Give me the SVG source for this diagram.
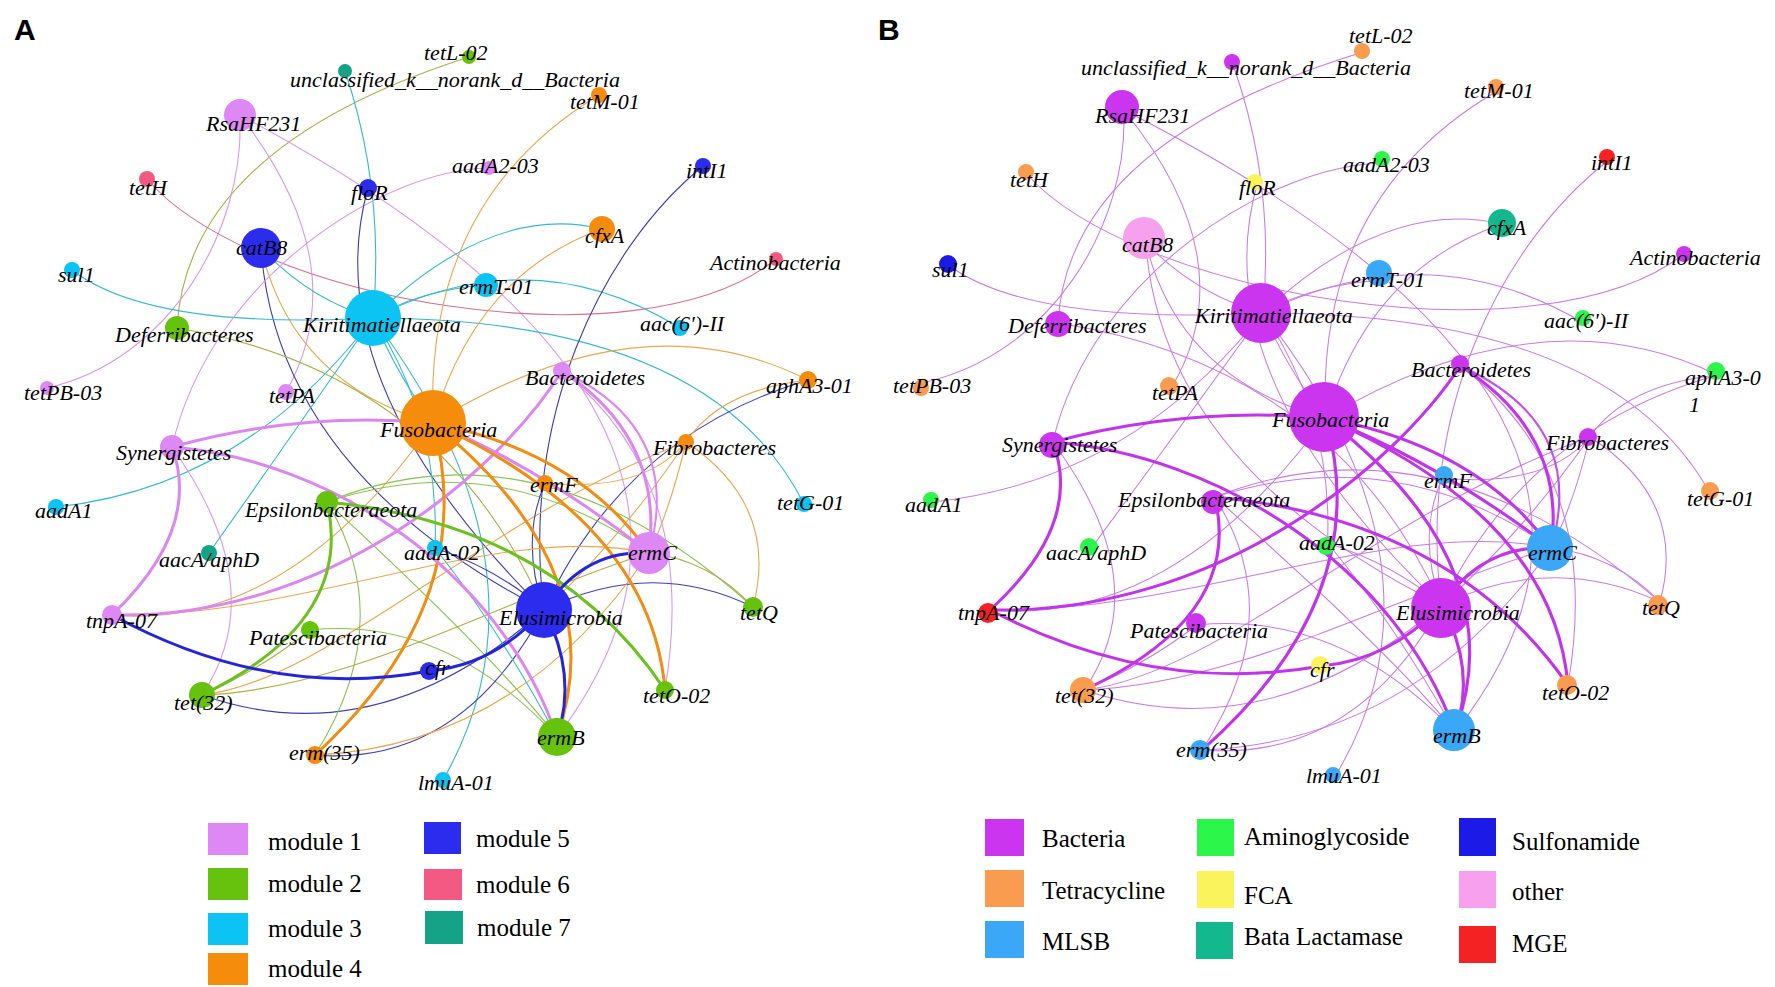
<svg xmlns="http://www.w3.org/2000/svg" width="1775" height="987" viewBox="0 0 1775 987">
<style>
.bg{fill:#fff}
.e{fill:none;stroke-width:1.1}
.t{fill:none;stroke-width:3}
.m{fill:none;stroke-width:2}
.cv{stroke:#d99ae8}.co{stroke:#e6a850}.cc{stroke:#36b8d0}.cn{stroke:#3c3cb8}.cg{stroke:#8cc050}.cl{stroke:#a8b048}.cp{stroke:#d87090}
.tv{stroke:#dc86f0}.to{stroke:#f28c12}.tg{stroke:#6cc020}.tn{stroke:#2424d8}
#edgesB .e{stroke:#c87ae4;stroke-width:1}
#edgesB .t{stroke:#c234ec;stroke-width:3}
#edgesB .m{stroke:#c450ea;stroke-width:2}
.lb{font-family:"Liberation Serif","Times New Roman",serif;font-style:italic;font-size:22px;fill:#000}
.lg{font-family:"Liberation Serif","Times New Roman",serif;font-size:25px;fill:#000}
.pl{font-family:"Liberation Sans",Arial,sans-serif;font-weight:bold;font-size:30px;fill:#000}
.m1{fill:#dd88f5}.m2{fill:#66c20c}.m3{fill:#0cc4f4}.m4{fill:#f58c0c}.m5{fill:#2c2cee}.m6{fill:#f25a84}.m7{fill:#14a386}
.bac{fill:#cc35f0}.tet{fill:#f99c4f}.mls{fill:#3aa8f6}.ami{fill:#2cf64a}.fca{fill:#fbf35c}.bla{fill:#14b88e}.sul{fill:#1b1ae6}.oth{fill:#f6a0ee}.mge{fill:#f42222}
</style>
<rect class="bg" x="0" y="0" width="1775" height="987"/>
<text class="pl" x="14" y="40">A</text>
<text class="pl" x="878" y="40">B</text>

<g id="edgesA">
<path class="e cl" d="M469,57 Q187,147 177,328"/>
<path class="e cc" d="M345,71 Q385,190 373,318"/>
<path class="e cv" d="M240,115 C245,230 170,360 47,388"/>
<path class="e cv" d="M240,115 Q357,266 286,392"/>
<path class="e cv" d="M240,115 Q801,414 557,737"/>
<path class="e cp" d="M147,179 C250,300 640,370 776,259"/>
<path class="e cn" d="M261,248 Q277,471 544,610"/>
<path class="e co" d="M261,248 Q293,384 433,423"/>
<path class="e cc" d="M261,248 Q310,300 373,318"/>
<path class="e cc" d="M72,270 Q150,330 373,318"/>
<path class="e cv" d="M489,168 C380,170 210,280 172,447"/>
<path class="e cn" d="M368,188 Q314,381 544,610"/>
<path class="e cl" d="M177,328 Q440,371 544,610"/>
<path class="e cc" d="M373,318 Q420,290 486,285"/>
<path class="e cc" d="M373,318 Q492,202 602,229"/>
<path class="e cc" d="M373,318 Q533,237 680,328"/>
<path class="e cc" d="M373,318 Q711,319 804,504"/>
<path class="e cc" d="M373,318 Q245,487 56,507"/>
<path class="e cc" d="M373,318 Q279,454 209,553"/>
<path class="e cc" d="M373,318 Q562,571 443,780"/>
<path class="e cc" d="M373,318 Q400,380 433,423"/>
<path class="e cc" d="M373,318 Q440,420 435,548"/>
<path class="e co" d="M599,95 Q424,201 433,423"/>
<path class="e co" d="M602,229 Q476,274 433,423"/>
<path class="e cn" d="M703,166 C600,250 520,420 544,610"/>
<path class="e cn" d="M544,610 Q624,435 808,380"/>
<path class="e co" d="M433,423 Q640,295 808,380"/>
<path class="e co" d="M808,380 Q720,390 686,442"/>
<path class="e co" d="M686,442 Q780,505 753,607"/>
<path class="e co" d="M686,442 Q670,510 649,553"/>
<path class="e co" d="M686,442 Q644,493 545,483"/>
<path class="e co" d="M686,442 Q620,540 544,610"/>
<path class="e cv" d="M562,371 Q700,480 665,690"/>
<path class="e co" d="M112,615 Q287,631 433,423"/>
<path class="e co" d="M202,695 C330,680 480,520 686,442"/>
<path class="e cg" d="M327,502 Q540,415 753,607"/>
<path class="e cg" d="M327,502 Q500,445 649,553"/>
<path class="e cg" d="M310,630 Q446,616 557,737"/>
<path class="e cv" d="M172,447 Q273,589 202,695"/>
<path class="e cn" d="M544,610 Q651,557 753,607"/>
<path class="e cn" d="M202,695 Q377,757 544,610"/>
<path class="e cn" d="M315,755 Q460,767 544,610"/>
<path class="e co" d="M315,755 Q518,746 649,553"/>
<path class="e cn" d="M435,548 Q500,570 544,610"/>
<path class="e cn" d="M545,483 Q520,540 544,610"/>
<path class="e cg" d="M327,502 Q498,660 557,737"/>
<path class="e cc" d="M435,548 Q500,630 557,737"/>
<path class="e cl" d="M649,553 Q710,560 753,607"/>
<path class="e cg" d="M327,502 Q399,621 315,755"/>
<path class="e cl" d="M310,630 Q260,670 202,695"/>
<path class="e co" d="M112,615 C300,620 500,520 649,553"/>
<path class="e cl" d="M202,695 C350,690 500,600 649,553"/>
<path class="m tv" d="M562,371 Q684,428 649,553"/>
<path class="t tv" d="M562,371 Q664,438 649,553"/>
<path class="t tv" d="M562,371 C500,470 330,620 112,615"/>
<path class="t tv" d="M172,447 Q302,411 433,423"/>
<path class="t to" d="M433,423 Q579,452 649,553"/>
<path class="t tv" d="M433,423 Q545,470 649,553"/>
<path class="t to" d="M433,423 Q651,523 665,690"/>
<path class="t to" d="M433,423 Q615,570 557,737"/>
<path class="t to" d="M433,423 Q482,601 315,755"/>
<path class="t tv" d="M172,447 C330,460 500,570 557,737"/>
<path class="t tg" d="M327,502 Q355,621 202,695"/>
<path class="t tg" d="M327,502 Q554,524 665,690"/>
<path class="t tv" d="M112,615 Q202,529 172,447"/>
<path class="t tn" d="M112,615 Q270,701 429,671"/>
<path class="t tn" d="M429,671 Q495,665 544,610"/>
<path class="t tn" d="M544,610 Q584,549 649,553"/>
<path class="t tn" d="M544,610 Q578,675 557,737"/>
</g>

<g id="edgesB" transform="matrix(1.045 0 0 1 873 -5)">
<path class="e" d="M469,57 Q187,147 177,328"/>
<path class="e" d="M345,71 Q385,190 373,318"/>
<path class="e" d="M240,115 C245,230 170,360 47,388"/>
<path class="e" d="M240,115 Q357,266 286,392"/>
<path class="e" d="M240,115 Q801,414 557,737"/>
<path class="e" d="M147,179 C250,300 640,370 776,259"/>
<path class="e" d="M261,248 Q277,471 544,610"/>
<path class="e" d="M261,248 Q293,384 433,423"/>
<path class="e" d="M261,248 Q310,300 373,318"/>
<path class="e" d="M72,270 Q150,330 373,318"/>
<path class="e" d="M489,168 C380,170 210,280 172,447"/>
<path class="e" d="M368,188 Q314,381 544,610"/>
<path class="e" d="M177,328 Q440,371 544,610"/>
<path class="e" d="M373,318 Q420,290 486,285"/>
<path class="e" d="M373,318 Q492,202 602,229"/>
<path class="e" d="M373,318 Q533,237 680,328"/>
<path class="e" d="M373,318 Q711,319 804,504"/>
<path class="e" d="M373,318 Q245,487 56,507"/>
<path class="e" d="M373,318 Q279,454 209,553"/>
<path class="e" d="M373,318 Q562,571 443,780"/>
<path class="e" d="M373,318 Q400,380 433,423"/>
<path class="e" d="M373,318 Q440,420 435,548"/>
<path class="e" d="M599,95 Q424,201 433,423"/>
<path class="e" d="M602,229 Q476,274 433,423"/>
<path class="e" d="M703,166 C600,250 520,420 544,610"/>
<path class="e" d="M544,610 Q624,435 808,380"/>
<path class="e" d="M433,423 Q640,295 808,380"/>
<path class="e" d="M808,380 Q720,390 686,442"/>
<path class="e" d="M686,442 Q780,505 753,607"/>
<path class="e" d="M686,442 Q670,510 649,553"/>
<path class="e" d="M686,442 Q644,493 545,483"/>
<path class="e" d="M686,442 Q620,540 544,610"/>
<path class="e" d="M562,371 Q700,480 665,690"/>
<path class="e" d="M112,615 Q287,631 433,423"/>
<path class="e" d="M202,695 C330,680 480,520 686,442"/>
<path class="e" d="M327,502 Q540,415 753,607"/>
<path class="e" d="M327,502 Q500,445 649,553"/>
<path class="e" d="M310,630 Q446,616 557,737"/>
<path class="e" d="M172,447 Q273,589 202,695"/>
<path class="e" d="M544,610 Q651,557 753,607"/>
<path class="e" d="M202,695 Q377,757 544,610"/>
<path class="e" d="M315,755 Q460,767 544,610"/>
<path class="e" d="M315,755 Q518,746 649,553"/>
<path class="e" d="M435,548 Q500,570 544,610"/>
<path class="e" d="M545,483 Q520,540 544,610"/>
<path class="e" d="M327,502 Q498,660 557,737"/>
<path class="e" d="M435,548 Q500,630 557,737"/>
<path class="e" d="M649,553 Q710,560 753,607"/>
<path class="e" d="M327,502 Q399,621 315,755"/>
<path class="e" d="M310,630 Q260,670 202,695"/>
<path class="e" d="M112,615 C300,620 500,520 649,553"/>
<path class="e" d="M202,695 C350,690 500,600 649,553"/>
<path class="m" d="M562,371 Q684,428 649,553"/>
<path class="t" d="M562,371 Q664,438 649,553"/>
<path class="t" d="M562,371 C500,470 330,620 112,615"/>
<path class="t" d="M172,447 Q302,411 433,423"/>
<path class="t" d="M433,423 Q579,452 649,553"/>
<path class="t" d="M433,423 Q545,470 649,553"/>
<path class="t" d="M433,423 Q651,523 665,690"/>
<path class="t" d="M433,423 Q615,570 557,737"/>
<path class="t" d="M433,423 Q482,601 315,755"/>
<path class="t" d="M172,447 C330,460 500,570 557,737"/>
<path class="t" d="M327,502 Q355,621 202,695"/>
<path class="t" d="M327,502 Q554,524 665,690"/>
<path class="t" d="M112,615 Q202,529 172,447"/>
<path class="t" d="M112,615 Q270,701 429,671"/>
<path class="t" d="M429,671 Q495,665 544,610"/>
<path class="t" d="M544,610 Q584,549 649,553"/>
<path class="t" d="M544,610 Q578,675 557,737"/>
</g>

<g id="nodesA">
<g id="a-tetL02"><circle class="m2" cx="469" cy="57" r="7"/><text class="lb" x="424" y="60">tetL-02</text></g>
<g id="a-unclassified"><circle class="m7" cx="345" cy="71" r="7"/><text class="lb" x="290" y="87">unclassified_k__norank_d__Bacteria</text></g>
<g id="a-tetM01"><circle class="m4" cx="599" cy="95" r="8"/><text class="lb" x="570" y="109">tetM-01</text></g>
<g id="a-RsaHF231"><circle class="m1" cx="240" cy="115" r="16"/><text class="lb" x="206" y="131">RsaHF231</text></g>
<g id="a-aadA203"><circle class="m1" cx="489" cy="168" r="7"/><text class="lb" x="452" y="173">aadA2-03</text></g>
<g id="a-intI1"><circle class="m5" cx="703" cy="166" r="8"/><text class="lb" x="686" y="178">intI1</text></g>
<g id="a-tetH"><circle class="m6" cx="147" cy="179" r="8"/><text class="lb" x="129" y="195">tetH</text></g>
<g id="a-floR"><circle class="m5" cx="368" cy="188" r="9"/><text class="lb" x="351" y="200">floR</text></g>
<g id="a-cfxA"><circle class="m4" cx="602" cy="229" r="13"/><text class="lb" x="585" y="243">cfxA</text></g>
<g id="a-catB8"><circle class="m5" cx="261" cy="248" r="20"/><text class="lb" x="236" y="255">catB8</text></g>
<g id="a-sul1"><circle class="m3" cx="72" cy="270" r="8"/><text class="lb" x="58" y="282">sul1</text></g>
<g id="a-Actinobacteria"><circle class="m6" cx="776" cy="259" r="7"/><text class="lb" x="710" y="270">Actinobacteria</text></g>
<g id="a-ermT01"><circle class="m3" cx="486" cy="285" r="12"/><text class="lb" x="459" y="294">ermT-01</text></g>
<g id="a-Kiritimatiellaeota"><circle class="m3" cx="373" cy="318" r="28"/><text class="lb" x="303" y="332">Kiritimatiellaeota</text></g>
<g id="a-aac6II"><circle class="m3" cx="680" cy="328" r="8"/><text class="lb" x="640" y="331">aac(6')-II</text></g>
<g id="a-Deferribacteres"><circle class="m2" cx="177" cy="328" r="12"/><text class="lb" x="115" y="342">Deferribacteres</text></g>
<g id="a-tetPB03"><circle class="m1" cx="47" cy="388" r="7"/><text class="lb" x="24" y="400">tetPB-03</text></g>
<g id="a-tetPA"><circle class="m1" cx="286" cy="392" r="8"/><text class="lb" x="269" y="403">tetPA</text></g>
<g id="a-Bacteroidetes"><circle class="m1" cx="562" cy="371" r="9"/><text class="lb" x="525" y="385">Bacteroidetes</text></g>
<g id="a-aphA301"><circle class="m4" cx="808" cy="380" r="9"/><text class="lb" x="766" y="393">aphA3-01</text></g>
<g id="a-Fusobacteria"><circle class="m4" cx="433" cy="423" r="33"/><text class="lb" x="380" y="437">Fusobacteria</text></g>
<g id="a-Synergistetes"><circle class="m1" cx="172" cy="447" r="12"/><text class="lb" x="116" y="460">Synergistetes</text></g>
<g id="a-Fibrobacteres"><circle class="m4" cx="686" cy="442" r="8"/><text class="lb" x="653" y="455">Fibrobacteres</text></g>
<g id="a-ermF"><circle class="m4" cx="545" cy="483" r="8"/><text class="lb" x="530" y="492">ermF</text></g>
<g id="a-tetG01"><circle class="m3" cx="804" cy="504" r="8"/><text class="lb" x="777" y="510">tetG-01</text></g>
<g id="a-aadA1"><circle class="m3" cx="56" cy="507" r="8"/><text class="lb" x="35" y="518">aadA1</text></g>
<g id="a-Epsilonbacteraeota"><circle class="m2" cx="327" cy="502" r="11"/><text class="lb" x="245" y="517">Epsilonbacteraeota</text></g>
<g id="a-aadA02"><circle class="m3" cx="435" cy="548" r="8"/><text class="lb" x="404" y="560">aadA-02</text></g>
<g id="a-ermC"><circle class="m1" cx="649" cy="553" r="21"/><text class="lb" x="628" y="560">ermC</text></g>
<g id="a-aacAaphD"><circle class="m7" cx="209" cy="553" r="8"/><text class="lb" x="159" y="567">aacA/aphD</text></g>
<g id="a-tnpA07"><circle class="m1" cx="112" cy="615" r="10"/><text class="lb" x="86" y="628">tnpA-07</text></g>
<g id="a-Elusimicrobia"><circle class="m5" cx="544" cy="610" r="28"/><text class="lb" x="499" y="625">Elusimicrobia</text></g>
<g id="a-tetQ"><circle class="m2" cx="753" cy="607" r="10"/><text class="lb" x="740" y="620">tetQ</text></g>
<g id="a-Patescibacteria"><circle class="m2" cx="310" cy="630" r="9"/><text class="lb" x="249" y="645">Patescibacteria</text></g>
<g id="a-cfr"><circle class="m5" cx="429" cy="671" r="9"/><text class="lb" x="425" y="675">cfr</text></g>
<g id="a-tet32"><circle class="m2" cx="202" cy="695" r="13"/><text class="lb" x="174" y="710">tet(32)</text></g>
<g id="a-tetO02"><circle class="m2" cx="665" cy="690" r="9"/><text class="lb" x="643" y="703">tetO-02</text></g>
<g id="a-ermB"><circle class="m2" cx="557" cy="737" r="19"/><text class="lb" x="537" y="745">ermB</text></g>
<g id="a-erm35"><circle class="m4" cx="315" cy="755" r="9"/><text class="lb" x="289" y="760">erm(35)</text></g>
<g id="a-lmuA01"><circle class="m3" cx="443" cy="780" r="8"/><text class="lb" x="418" y="790">lmuA-01</text></g>
</g>

<g id="nodesB">
<g id="b-tetL02"><circle class="tet" cx="1362" cy="51" r="8"/><text class="lb" x="1349" y="43">tetL-02</text></g>
<g id="b-unclassified"><circle class="bac" cx="1232" cy="62" r="8"/><text class="lb" x="1081" y="75">unclassified_k__norank_d__Bacteria</text></g>
<g id="b-tetM01"><circle class="tet" cx="1496" cy="87" r="8"/><text class="lb" x="1464" y="98">tetM-01</text></g>
<g id="b-RsaHF231"><circle class="bac" cx="1122" cy="107" r="17"/><text class="lb" x="1095" y="123">RsaHF231</text></g>
<g id="b-aadA203"><circle class="ami" cx="1382" cy="159" r="8"/><text class="lb" x="1343" y="172">aadA2-03</text></g>
<g id="b-intI1"><circle class="mge" cx="1607" cy="157" r="8"/><text class="lb" x="1591" y="170">intI1</text></g>
<g id="b-tetH"><circle class="tet" cx="1026" cy="172" r="8"/><text class="lb" x="1010" y="187">tetH</text></g>
<g id="b-floR"><circle class="fca" cx="1255" cy="182" r="8"/><text class="lb" x="1239" y="195">floR</text></g>
<g id="b-cfxA"><circle class="bla" cx="1502" cy="223" r="14"/><text class="lb" x="1487" y="235">cfxA</text></g>
<g id="b-catB8"><circle class="oth" cx="1144" cy="238" r="21"/><text class="lb" x="1122" y="252">catB8</text></g>
<g id="b-sul1"><circle class="sul" cx="948" cy="264" r="9"/><text class="lb" x="932" y="277">sul1</text></g>
<g id="b-Actinobacteria"><circle class="bac" cx="1684" cy="254" r="8"/><text class="lb" x="1630" y="265">Actinobacteria</text></g>
<g id="b-ermT01"><circle class="mls" cx="1379" cy="273" r="13"/><text class="lb" x="1351" y="287">ermT-01</text></g>
<g id="b-Kiritimatiellaeota"><circle class="bac" cx="1261" cy="313" r="30"/><text class="lb" x="1195" y="323">Kiritimatiellaeota</text></g>
<g id="b-aac6II"><circle class="ami" cx="1583" cy="318" r="8"/><text class="lb" x="1544" y="328">aac(6')-II</text></g>
<g id="b-Deferribacteres"><circle class="bac" cx="1058" cy="324" r="13"/><text class="lb" x="1008" y="333">Deferribacteres</text></g>
<g id="b-tetPB03"><circle class="tet" cx="921" cy="388" r="8"/><text class="lb" x="893" y="393">tetPB-03</text></g>
<g id="b-tetPA"><circle class="tet" cx="1169" cy="386" r="9"/><text class="lb" x="1152" y="400">tetPA</text></g>
<g id="b-Bacteroidetes"><circle class="bac" cx="1460" cy="364" r="9"/><text class="lb" x="1411" y="377">Bacteroidetes</text></g>
<g id="b-aphA301"><circle class="ami" cx="1716" cy="371" r="9"/><text class="lb" x="1685" y="385">aphA3-0</text><text class="lb" x="1689" y="412">1</text></g>
<g id="b-Fusobacteria"><circle class="bac" cx="1324" cy="417" r="35"/><text class="lb" x="1272" y="427">Fusobacteria</text></g>
<g id="b-Synergistetes"><circle class="bac" cx="1052" cy="445" r="13"/><text class="lb" x="1002" y="452">Synergistetes</text></g>
<g id="b-Fibrobacteres"><circle class="bac" cx="1588" cy="437" r="9"/><text class="lb" x="1546" y="450">Fibrobacteres</text></g>
<g id="b-ermF"><circle class="mls" cx="1444" cy="475" r="9"/><text class="lb" x="1424" y="488">ermF</text></g>
<g id="b-tetG01"><circle class="tet" cx="1710" cy="491" r="9"/><text class="lb" x="1687" y="506">tetG-01</text></g>
<g id="b-aadA1"><circle class="ami" cx="931" cy="500" r="8"/><text class="lb" x="905" y="512">aadA1</text></g>
<g id="b-Epsilonbacteraeota"><circle class="bac" cx="1213" cy="502" r="12"/><text class="lb" x="1118" y="507">Epsilonbacteraeota</text></g>
<g id="b-aadA02"><circle class="ami" cx="1326" cy="546" r="9"/><text class="lb" x="1299" y="550">aadA-02</text></g>
<g id="b-ermC"><circle class="mls" cx="1550" cy="548" r="23"/><text class="lb" x="1528" y="560">ermC</text></g>
<g id="b-aacAaphD"><circle class="ami" cx="1089" cy="547" r="9"/><text class="lb" x="1046" y="560">aacA/aphD</text></g>
<g id="b-tnpA07"><circle class="mge" cx="988" cy="613" r="10"/><text class="lb" x="958" y="620">tnpA-07</text></g>
<g id="b-Elusimicrobia"><circle class="bac" cx="1441" cy="608" r="30"/><text class="lb" x="1396" y="620">Elusimicrobia</text></g>
<g id="b-tetQ"><circle class="tet" cx="1658" cy="605" r="10"/><text class="lb" x="1642" y="615">tetQ</text></g>
<g id="b-Patescibacteria"><circle class="bac" cx="1196" cy="623" r="10"/><text class="lb" x="1130" y="638">Patescibacteria</text></g>
<g id="b-cfr"><circle class="fca" cx="1320" cy="665" r="9"/><text class="lb" x="1310" y="677">cfr</text></g>
<g id="b-tet32"><circle class="tet" cx="1083" cy="690" r="13"/><text class="lb" x="1055" y="703">tet(32)</text></g>
<g id="b-tetO02"><circle class="tet" cx="1567" cy="685" r="10"/><text class="lb" x="1542" y="700">tetO-02</text></g>
<g id="b-ermB"><circle class="mls" cx="1454" cy="730" r="21"/><text class="lb" x="1433" y="743">ermB</text></g>
<g id="b-erm35"><circle class="mls" cx="1200" cy="750" r="10"/><text class="lb" x="1176" y="757">erm(35)</text></g>
<g id="b-lmuA01"><circle class="mls" cx="1333" cy="775" r="8"/><text class="lb" x="1306" y="783">lmuA-01</text></g>
</g>

<g id="legendA">
<rect class="m1" x="208" y="823" width="40" height="32"/><text class="lg" x="268" y="850">module 1</text>
<rect class="m2" x="208" y="868" width="40" height="32"/><text class="lg" x="268" y="892">module 2</text>
<rect class="m3" x="208" y="913" width="40" height="32"/><text class="lg" x="268" y="937">module 3</text>
<rect class="m4" x="208" y="953" width="40" height="32"/><text class="lg" x="268" y="977">module 4</text>
<rect class="m5" x="424" y="822" width="37" height="32"/><text class="lg" x="476" y="847">module 5</text>
<rect class="m6" x="424" y="869" width="38" height="31"/><text class="lg" x="476" y="893">module 6</text>
<rect class="m7" x="425" y="911" width="38" height="33"/><text class="lg" x="477" y="936">module 7</text>
</g>

<g id="legendB">
<rect class="bac" x="985" y="819" width="39" height="37"/><text class="lg" x="1042" y="847">Bacteria</text>
<rect class="tet" x="985" y="870" width="39" height="37"/><text class="lg" x="1042" y="899">Tetracycline</text>
<rect class="mls" x="985" y="921" width="39" height="37"/><text class="lg" x="1042" y="950">MLSB</text>
<rect class="ami" x="1197" y="819" width="37" height="37"/><text class="lg" x="1244" y="845">Aminoglycoside</text>
<rect class="fca" x="1197" y="871" width="37" height="37"/><text class="lg" x="1244" y="904">FCA</text>
<rect class="bla" x="1196" y="922" width="37" height="37"/><text class="lg" x="1244" y="945">Bata Lactamase</text>
<rect class="sul" x="1459" y="818" width="37" height="38"/><text class="lg" x="1512" y="850">Sulfonamide</text>
<rect class="oth" x="1459" y="871" width="37" height="37"/><text class="lg" x="1512" y="900">other</text>
<rect class="mge" x="1459" y="926" width="37" height="37"/><text class="lg" x="1512" y="952">MGE</text>
</g>
</svg>
